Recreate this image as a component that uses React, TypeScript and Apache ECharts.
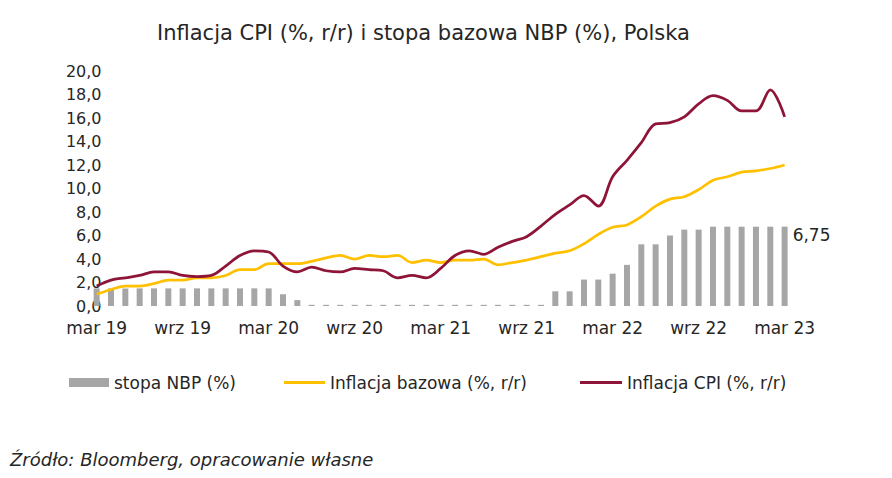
import React, { useEffect, useRef } from "react";
import * as echarts from "echarts";

const categories = [
  "mar 19", "kwi 19", "maj 19", "cze 19", "lip 19", "sie 19", "wrz 19", "paź 19", "lis 19", "gru 19",
  "sty 20", "lut 20", "mar 20", "kwi 20", "maj 20", "cze 20", "lip 20", "sie 20", "wrz 20", "paź 20", "lis 20", "gru 20",
  "sty 21", "lut 21", "mar 21", "kwi 21", "maj 21", "cze 21", "lip 21", "sie 21", "wrz 21", "paź 21", "lis 21", "gru 21",
  "sty 22", "lut 22", "mar 22", "kwi 22", "maj 22", "cze 22", "lip 22", "sie 22", "wrz 22", "paź 22", "lis 22", "gru 22",
  "sty 23", "lut 23", "mar 23",
];

const nbpRate = [
  1.5, 1.5, 1.5, 1.5, 1.5, 1.5, 1.5, 1.5, 1.5, 1.5,
  1.5, 1.5, 1.5, 1.0, 0.5, 0.1, 0.1, 0.1, 0.1, 0.1, 0.1, 0.1,
  0.1, 0.1, 0.1, 0.1, 0.1, 0.1, 0.1, 0.1, 0.1, 0.1, 1.25, 1.25,
  2.25, 2.25, 2.75, 3.5, 5.25, 5.25, 6.0, 6.5, 6.5, 6.75, 6.75, 6.75,
  6.75, 6.75, 6.75,
];

const coreInflation = [
  1.0, 1.4, 1.7, 1.7, 1.9, 2.2, 2.2, 2.4, 2.4, 2.6,
  3.1, 3.1, 3.6, 3.6, 3.6, 3.8, 4.1, 4.3, 4.0, 4.3, 4.2, 4.3,
  3.7, 3.9, 3.7, 3.9, 3.9, 4.0, 3.5, 3.7, 3.9, 4.2, 4.5, 4.7,
  5.3, 6.1, 6.7, 6.9, 7.6, 8.5, 9.1, 9.3, 9.9, 10.7, 11.0, 11.4,
  11.5, 11.7, 12.0,
];

const cpiInflation = [
  1.7, 2.2, 2.4, 2.6, 2.9, 2.9, 2.6, 2.5, 2.6, 3.4,
  4.3, 4.7, 4.6, 3.4, 2.9, 3.3, 3.0, 2.9, 3.2, 3.1, 3.0, 2.4,
  2.6, 2.4, 3.2, 4.3, 4.7, 4.4, 5.0, 5.5, 5.9, 6.8, 7.8, 8.6,
  9.4, 8.5, 11.0, 12.4, 13.9, 15.5, 15.6, 16.1, 17.2, 17.9, 17.5, 16.6,
  16.6, 18.4, 16.1,
];

const seriesNames = ["stopa NBP (%)", "Inflacja bazowa (%, r/r)", "Inflacja CPI (%, r/r)"];
const titleText = "Inflacja CPI (%, r/r) i stopa bazowa NBP (%), Polska";
const sourceText = "Źródło: Bloomberg, opracowanie własne";

const FONT = "'DejaVu Sans', Verdana, sans-serif";
const TEXT_COLOR = "#262626";
const BAR_COLOR = "#A6A6A6";
const CORE_COLOR = "#FFC000";
const CPI_COLOR = "#8E1538";

export default function App() {
  const ref = useRef<HTMLDivElement>(null);

  useEffect(() => {
    document.body.style.margin = "0";
    if (!ref.current) return;
    const chart = echarts.init(ref.current, null, { renderer: "svg" });
    const last = nbpRate.length - 1;
    const legendText = { fontFamily: FONT, fontSize: 17, color: TEXT_COLOR };
    chart.setOption({
      animation: false,
      backgroundColor: "#ffffff",
      title: {
        text: titleText,
        left: 152,
        top: 17,
        textStyle: { fontFamily: FONT, fontSize: 21, fontWeight: "normal", color: TEXT_COLOR },
      },
      legend: [
        {
          data: [{ name: seriesNames[0], icon: "rect" }],
          left: 64,
          top: 369,
          itemWidth: 40,
          itemHeight: 9,
          textStyle: legendText,
        },
        {
          data: [{ name: seriesNames[1], icon: "rect", itemStyle: { color: CORE_COLOR } }],
          left: 279,
          top: 369,
          itemWidth: 41,
          itemHeight: 3,
          textStyle: legendText,
        },
        {
          data: [{ name: seriesNames[2], icon: "rect", itemStyle: { color: CPI_COLOR } }],
          left: 575,
          top: 369,
          itemWidth: 42,
          itemHeight: 3,
          textStyle: legendText,
        },
      ],
      grid: { left: 89.5, top: 71, width: 702.3, height: 235, containLabel: false },
      xAxis: {
        type: "category",
        data: categories,
        boundaryGap: true,
        axisLine: { show: false },
        axisTick: { show: false },
        axisLabel: {
          interval: 5,
          margin: 13,
          fontFamily: FONT,
          fontSize: 17,
          color: TEXT_COLOR,
        },
        splitLine: { show: false },
      },
      yAxis: {
        type: "value",
        min: 0,
        max: 20,
        interval: 2,
        offset: -12,
        axisLine: { show: false },
        axisTick: { show: false },
        splitLine: { show: false },
        axisLabel: {
          margin: 0,
          fontFamily: FONT,
          fontSize: 16,
          color: TEXT_COLOR,
          formatter: (v: number) => v.toFixed(1).replace(".", ","),
        },
      },
      series: [
        {
          name: seriesNames[0],
          type: "bar",
          data: nbpRate.map((v, i) =>
            i === last
              ? {
                  value: v,
                  label: {
                    show: true,
                    position: [11, 0],
                    formatter: (p: any) => String(p.value).replace(".", ","),
                    fontFamily: FONT,
                    fontSize: 17,
                    color: TEXT_COLOR,
                  },
                }
              : v
          ),
          barWidth: 6,
          itemStyle: { color: BAR_COLOR },
        },
        {
          name: seriesNames[1],
          type: "line",
          data: coreInflation,
          smooth: 0.35,
          showSymbol: false,
          symbol: "none",
          lineStyle: { color: CORE_COLOR, width: 2.75 },
          itemStyle: { color: CORE_COLOR },
        },
        {
          name: seriesNames[2],
          type: "line",
          data: cpiInflation,
          smooth: 0.35,
          showSymbol: false,
          symbol: "none",
          lineStyle: { color: CPI_COLOR, width: 2.75 },
          itemStyle: { color: CPI_COLOR },
        },
      ],
      graphic: [
        {
          type: "text",
          left: 10,
          top: 450,
          style: {
            text: sourceText,
            fontFamily: FONT,
            fontSize: 18,
            fontStyle: "italic",
            fill: TEXT_COLOR,
          },
        },
      ],
    });
    return () => chart.dispose();
  }, []);

  return <div ref={ref} style={{ width: 892, height: 478 }} />;
}
